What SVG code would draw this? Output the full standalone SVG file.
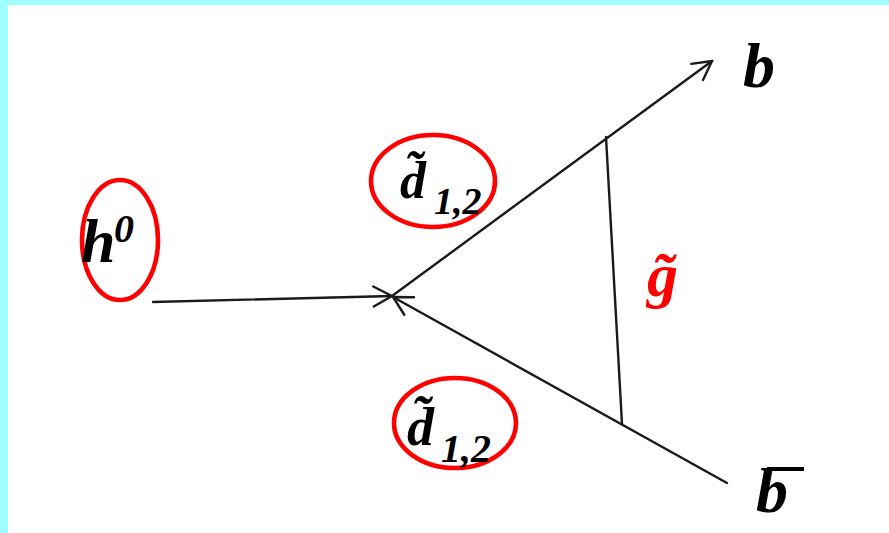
<svg xmlns="http://www.w3.org/2000/svg" width="889" height="533" viewBox="0 0 889 533">
  <style>
    .lbl { font-family: "Liberation Serif", "Times New Roman", serif; font-weight: bold; font-style: italic; fill: #000; }
    .red { fill: #FF0000; }
    .ring { fill: none; stroke: #FF0000; stroke-width: 4.6; }
    .edge { fill: none; stroke: #1a1a1a; stroke-width: 2.4; stroke-linecap: round; }
  </style>
  <defs>
    <marker id="arr" markerUnits="userSpaceOnUse" viewBox="-22 -12 24 24" refX="0" refY="0" markerWidth="24" markerHeight="24" orient="auto">
      <path d="M-18.5,-10 L0,0 L-18.5,10" fill="none" stroke="#1a1a1a" stroke-width="2.4" stroke-linecap="round" stroke-linejoin="miter"/>
    </marker>
  </defs>
  <rect x="0" y="0" width="889" height="533" fill="#9FFFFF"/>
  <rect x="8" y="5" width="881" height="528" fill="#FFFFFF"/>

  <g id="connectors">
    <line class="edge" x1="153" y1="302" x2="392" y2="296" marker-end="url(#arr)"/>
    <line class="edge" x1="392" y1="296" x2="712" y2="61" marker-end="url(#arr)"/>
    <line class="edge" x1="727" y1="483" x2="393" y2="297" marker-end="url(#arr)"/>
    <line class="edge" x1="606" y1="137" x2="622" y2="424"/>
  </g>

  <g id="h0">
    <ellipse class="ring" cx="120" cy="240" rx="38" ry="60"/>
    <text class="lbl" x="81" y="262" font-size="62">h</text>
    <text class="lbl" x="114" y="242" font-size="40">0</text>
  </g>

  <g id="d12-top">
    <ellipse class="ring" cx="433" cy="181" rx="62" ry="46"/>
    <text class="lbl" x="400" y="198" font-size="52">d̃</text>
    <text class="lbl" x="434" y="214" font-size="38">1,2</text>
  </g>

  <g id="d12-bottom">
    <ellipse class="ring" cx="455" cy="423" rx="61" ry="45"/>
    <text class="lbl" x="407" y="445" font-size="54">d̃</text>
    <text class="lbl" x="441" y="462" font-size="40">1,2</text>
  </g>

  <g id="b">
    <text class="lbl" x="743" y="87" font-size="64">b</text>
  </g>

  <g id="bbar">
    <text class="lbl" x="756" y="512" font-size="64">b</text>
    <line x1="767" y1="469" x2="804" y2="469" stroke="#000" stroke-width="4"/>
  </g>

  <g id="gluino">
    <text class="lbl red" x="647" y="296" font-size="62">g̃</text>
  </g>
</svg>
